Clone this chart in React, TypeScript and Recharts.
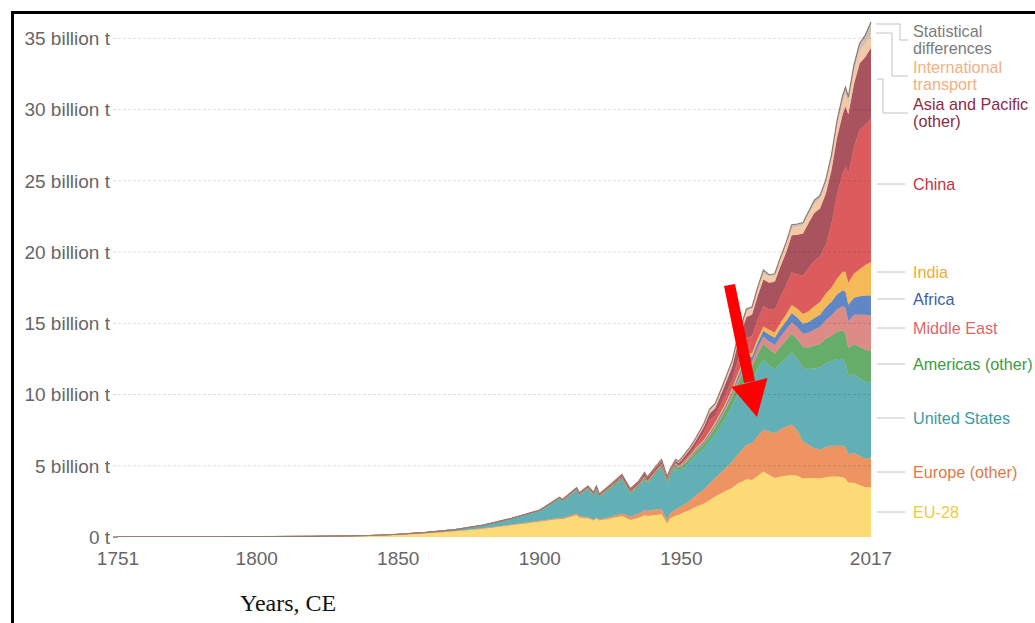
import { Area, AreaChart, ReferenceLine, XAxis, YAxis } from "recharts"

// CO2 emissions by world region, billion tonnes per year
const years = [
  1751, 1780, 1800, 1820, 1840, 1850, 1860, 1870, 1880, 1890,
  1900, 1903, 1907, 1908, 1913, 1914, 1917, 1919, 1920, 1921,
  1925, 1929, 1932, 1935, 1937, 1938, 1941, 1943, 1945, 1946,
  1948, 1949, 1950, 1953, 1955, 1958, 1960, 1962, 1965, 1968,
  1970, 1973, 1975, 1977, 1979, 1981, 1983, 1985, 1987, 1989,
  1991, 1993, 1995, 1997, 1999, 2001, 2003, 2005, 2007, 2008,
  2009, 2011, 2013, 2015, 2017,
]

const eu28 = [
  0.009, 0.015, 0.028, 0.045, 0.09, 0.16, 0.27, 0.4, 0.58, 0.82,
  1.07, 1.15, 1.27, 1.25, 1.52, 1.35, 1.32, 1.15, 1.3, 1.15,
  1.3, 1.47, 1.2, 1.35, 1.52, 1.48, 1.55, 1.6, 0.95, 1.3,
  1.5, 1.55, 1.65, 1.9, 2.1, 2.35, 2.6, 2.85, 3.15, 3.45,
  3.75, 4.05, 4.0, 4.3, 4.6, 4.35, 4.15, 4.25, 4.3, 4.35,
  4.3, 4.1, 4.15, 4.15, 4.1, 4.2, 4.25, 4.25, 4.2, 4.1,
  3.8, 3.8, 3.65, 3.5, 3.5,
]

const europeOther = [
  0, 0, 0.001, 0.002, 0.005, 0.01, 0.015, 0.02, 0.03, 0.05,
  0.07, 0.08, 0.09, 0.09, 0.12, 0.1, 0.08, 0.06, 0.07, 0.08,
  0.12, 0.18, 0.22, 0.3, 0.35, 0.36, 0.38, 0.35, 0.25, 0.35,
  0.45, 0.48, 0.5, 0.65, 0.8, 1.0, 1.15, 1.3, 1.55, 1.85,
  2.05, 2.4, 2.6, 2.8, 2.95, 3.05, 3.15, 3.3, 3.45, 3.55,
  3.2, 2.6, 2.3, 2.1, 2.05, 2.1, 2.15, 2.15, 2.2, 2.2,
  2.0, 2.1, 2.05, 2.0, 2.05,
]

const unitedStates = [
  0, 0, 0.0003, 0.001, 0.01, 0.02, 0.04, 0.09, 0.2, 0.4,
  0.68, 0.95, 1.3, 1.15, 1.6, 1.45, 1.95, 1.7, 1.95, 1.55,
  1.95, 2.35, 1.6, 1.85, 2.15, 1.85, 2.45, 2.9, 2.55, 2.6,
  2.9, 2.6, 2.55, 2.7, 2.8, 2.85, 2.95, 3.1, 3.45, 3.95,
  4.3, 4.75, 4.45, 4.75, 4.9, 4.65, 4.45, 4.65, 4.8, 5.05,
  5.0, 5.2, 5.35, 5.6, 5.75, 5.9, 5.95, 6.1, 6.1, 5.9,
  5.5, 5.55, 5.45, 5.4, 5.3,
]

const americasOther = [
  0, 0, 0, 0, 0.001, 0.002, 0.004, 0.008, 0.012, 0.02,
  0.03, 0.04, 0.05, 0.05, 0.08, 0.07, 0.07, 0.07, 0.08, 0.08,
  0.1, 0.12, 0.1, 0.11, 0.13, 0.13, 0.14, 0.14, 0.15, 0.16,
  0.18, 0.19, 0.2, 0.24, 0.27, 0.32, 0.38, 0.42, 0.5, 0.6,
  0.7, 0.85, 0.92, 1.0, 1.1, 1.15, 1.12, 1.18, 1.25, 1.33,
  1.37, 1.42, 1.5, 1.6, 1.65, 1.72, 1.78, 1.9, 2.0, 2.05,
  1.95, 2.1, 2.2, 2.25, 2.2,
]

const middleEast = [
  0, 0, 0, 0, 0, 0, 0, 0, 0, 0,
  0, 0, 0.001, 0.001, 0.002, 0.002, 0.002, 0.003, 0.003, 0.003,
  0.005, 0.008, 0.01, 0.012, 0.015, 0.015, 0.015, 0.018, 0.02, 0.022,
  0.028, 0.032, 0.04, 0.05, 0.06, 0.08, 0.1, 0.12, 0.16, 0.2,
  0.24, 0.32, 0.36, 0.43, 0.5, 0.53, 0.6, 0.68, 0.75, 0.8,
  0.85, 0.95, 1.05, 1.12, 1.2, 1.3, 1.42, 1.58, 1.72, 1.82,
  1.9, 2.05, 2.25, 2.45, 2.5,
]

const africa = [
  0, 0, 0, 0, 0, 0, 0, 0, 0.001, 0.003,
  0.008, 0.01, 0.012, 0.012, 0.018, 0.017, 0.018, 0.02, 0.022, 0.02,
  0.028, 0.035, 0.03, 0.035, 0.04, 0.042, 0.045, 0.048, 0.05, 0.055,
  0.065, 0.07, 0.08, 0.09, 0.1, 0.12, 0.14, 0.15, 0.18, 0.2,
  0.25, 0.3, 0.33, 0.38, 0.42, 0.48, 0.52, 0.56, 0.6, 0.65,
  0.68, 0.7, 0.75, 0.8, 0.85, 0.9, 0.95, 1.05, 1.1, 1.15,
  1.15, 1.2, 1.3, 1.35, 1.4,
]

const india = [
  0, 0, 0, 0, 0, 0, 0, 0.001, 0.002, 0.005,
  0.01, 0.012, 0.015, 0.016, 0.022, 0.024, 0.026, 0.028, 0.03, 0.03,
  0.033, 0.038, 0.035, 0.04, 0.045, 0.046, 0.05, 0.052, 0.055, 0.052,
  0.058, 0.062, 0.067, 0.075, 0.085, 0.1, 0.12, 0.14, 0.17, 0.19,
  0.2, 0.22, 0.25, 0.28, 0.3, 0.33, 0.37, 0.42, 0.47, 0.55,
  0.62, 0.68, 0.75, 0.82, 0.9, 0.95, 1.0, 1.1, 1.3, 1.4,
  1.55, 1.7, 1.9, 2.15, 2.35,
]

const china = [
  0, 0, 0, 0, 0, 0, 0, 0, 0, 0,
  0.001, 0.002, 0.003, 0.004, 0.01, 0.01, 0.012, 0.013, 0.014, 0.014,
  0.018, 0.025, 0.03, 0.035, 0.04, 0.04, 0.05, 0.05, 0.03, 0.03,
  0.035, 0.05, 0.08, 0.14, 0.2, 0.55, 0.78, 0.45, 0.63, 0.6,
  0.95, 1.1, 1.2, 1.35, 1.45, 1.45, 1.6, 1.85, 2.05, 2.3,
  2.4, 2.7, 3.05, 3.2, 3.2, 3.45, 4.45, 5.9, 6.9, 7.4,
  7.7, 8.9, 9.8, 9.8, 10.1,
]

const asiaPacificOther = [
  0, 0, 0, 0, 0, 0, 0, 0.002, 0.005, 0.012,
  0.025, 0.03, 0.04, 0.042, 0.06, 0.06, 0.07, 0.07, 0.075, 0.07,
  0.09, 0.12, 0.12, 0.15, 0.18, 0.19, 0.2, 0.2, 0.09, 0.08,
  0.13, 0.16, 0.22, 0.28, 0.3, 0.37, 0.45, 0.52, 0.68, 0.92,
  1.2, 1.45, 1.5, 1.65, 1.85, 1.85, 1.95, 2.1, 2.3, 2.6,
  2.8, 2.95, 3.15, 3.35, 3.35, 3.55, 3.75, 4.0, 4.15, 4.2,
  4.1, 4.4, 4.65, 4.8, 4.95,
]

const internationalTransport = [
  0, 0, 0, 0, 0, 0, 0, 0, 0, 0,
  0, 0.005, 0.008, 0.008, 0.015, 0.015, 0.015, 0.018, 0.02, 0.02,
  0.025, 0.03, 0.03, 0.035, 0.04, 0.04, 0.05, 0.06, 0.06, 0.07,
  0.08, 0.09, 0.1, 0.12, 0.14, 0.17, 0.2, 0.22, 0.25, 0.3,
  0.33, 0.38, 0.38, 0.42, 0.45, 0.42, 0.42, 0.45, 0.48, 0.52,
  0.55, 0.57, 0.6, 0.65, 0.68, 0.68, 0.72, 0.8, 0.88, 0.9,
  0.85, 0.9, 0.9, 0.93, 0.95,
]

const statisticalDifferences = [
  0, 0, 0, 0, 0, 0, 0, 0, 0, 0,
  0, 0.005, 0.01, 0.01, 0.015, 0.01, 0.01, 0.01, 0.015, 0.01,
  0.015, 0.02, 0.015, 0.02, 0.02, 0.02, 0.025, 0.03, 0.03, 0.03,
  0.03, 0.03, 0.04, 0.05, 0.06, 0.08, 0.1, 0.1, 0.12, 0.14,
  0.15, 0.18, 0.17, 0.2, 0.22, 0.15, 0.15, 0.18, 0.2, 0.22,
  0.2, 0.2, 0.22, 0.25, 0.25, 0.3, 0.35, 0.4, 0.45, 0.45,
  0.4, 0.45, 0.5, 0.6, 0.85,
]

const yTicks = [0, 5, 10, 15, 20, 25, 30, 35]
const xTicks = [1751, 1800, 1850, 1900, 1950, 2017]

// bottom of the stack first
const series = [
  { key: "eu28", values: eu28, fill: "#fcda75" },
  { key: "europeOther", values: europeOther, fill: "#ee9462" },
  { key: "unitedStates", values: unitedStates, fill: "#62afb5" },
  { key: "americasOther", values: americasOther, fill: "#65ad69" },
  { key: "middleEast", values: middleEast, fill: "#dd8b87" },
  { key: "africa", values: africa, fill: "#5f87c5" },
  { key: "india", values: india, fill: "#f6b957" },
  { key: "china", values: china, fill: "#dc5c5e" },
  { key: "asiaPacificOther", values: asiaPacificOther, fill: "#a9535f" },
  { key: "internationalTransport", values: internationalTransport, fill: "#f5c9a5" },
  { key: "statisticalDifferences", values: statisticalDifferences, fill: "#cdc2b8" },
]

const data = years.map((year, i) => {
  const row: any = { year }
  series.forEach((s) => {
    row[s.key] = s.values[i]
  })
  return row
})

// labels on the right, with their leader lines
const labels = [
  { lines: ["Statistical", "differences"], color: "#7b7b7b", y: 31, path: "M876 24 H900 V40 H908" },
  { lines: ["International", "transport"], color: "#f3b07f", y: 67, path: "M876 33 H892 V76 H908" },
  { lines: ["Asia and Pacific", "(other)"], color: "#8c2a44", y: 104, path: "M877 79 H883 V113 H908" },
  { lines: ["China"], color: "#c6333f", y: 184, path: "M877 184 H905" },
  { lines: ["India"], color: "#efab2c", y: 272, path: "M877 272 H905" },
  { lines: ["Africa"], color: "#3c5ea9", y: 299, path: "M877 299 H905" },
  { lines: ["Middle East"], color: "#d8686a", y: 328, path: "M877 328 H905" },
  { lines: ["Americas (other)"], color: "#3e9a3e", y: 364, path: "M877 364 H905" },
  { lines: ["United States"], color: "#3b9aa2", y: 418, path: "M877 418 H905" },
  { lines: ["Europe (other)"], color: "#db7a48", y: 472, path: "M877 472 H905" },
  { lines: ["EU-28"], color: "#f2cb3a", y: 512, path: "M877 512 H905" },
]

function YTick(props: any) {
  const { x, y, payload } = props
  const zero = payload.value === 0
  const text = zero ? "0 t" : `${payload.value} billion t`
  return (
    <g>
      <line
        x1={x + 3}
        x2={x + 8}
        y1={y}
        y2={y}
        stroke={zero ? "#8d776e" : "#d6d6d6"}
        strokeWidth={zero ? 1.5 : 1}
        strokeDasharray={zero ? undefined : "3 2"}
      />
      <text x={x} y={y} dy="0.355em" textAnchor="end" fill="#666" fontSize={19}>
        {text}
      </text>
    </g>
  )
}

export default function App() {
  return (
    <div
      style={{
        position: "fixed",
        left: 0,
        top: 0,
        width: 1035,
        height: 623,
        overflow: "hidden",
        background: "#fff",
        fontFamily: "'Liberation Sans', Arial, Helvetica, sans-serif",
      }}
    >
      <div
        style={{
          position: "absolute",
          left: 11,
          top: 11,
          width: 1100,
          height: 700,
          borderLeft: "3px solid #000",
          borderTop: "3px solid #000",
        }}
      />
      <div style={{ position: "absolute", left: 0, top: 0 }}>
        <AreaChart width={1035} height={623} data={data} margin={{ top: 17, right: 164, left: 0, bottom: 56 }}>
          <XAxis
            dataKey="year"
            type="number"
            domain={[1751, 2017]}
            ticks={xTicks}
            axisLine={false}
            tickLine={false}
            tickMargin={9}
            height={30}
            tick={{ fill: "#666", fontSize: 19 }}
          />
          <YAxis
            type="number"
            domain={[0, 36.5]}
            ticks={yTicks}
            width={118}
            axisLine={false}
            tickLine={false}
            tick={<YTick />}
            allowDataOverflow
          />
          {series.map((s, i) => (
            <Area
              key={s.key}
              type="linear"
              dataKey={s.key}
              stackId="1"
              fill={s.fill}
              fillOpacity={1}
              stroke={i === series.length - 1 ? "#8f7a73" : s.fill}
              strokeWidth={i === series.length - 1 ? 1.2 : 0.5}
              dot={false}
              activeDot={false}
              isAnimationActive={false}
            />
          ))}
          {yTicks
            .filter((v) => v > 0)
            .map((v) => (
              <ReferenceLine key={v} y={v} stroke="#000" strokeOpacity={0.13} strokeDasharray="3 2" />
            ))}
        </AreaChart>
      </div>
      <svg
        width={1035}
        height={623}
        style={{ position: "absolute", left: 0, top: 0, pointerEvents: "none" }}
      >
        {labels.map((l) => (
          <g key={l.lines[0]}>
            <path d={l.path} fill="none" stroke="#c2c2c2" strokeWidth={1} />
            {l.lines.map((line, j) => (
              <text key={j} x={913} y={l.y + j * 17.5} dy="0.355em" fill={l.color} fontSize={16.2}>
                {line}
              </text>
            ))}
          </g>
        ))}
        <polygon points="724,286 735,284 755,381 744,383" fill="#ff0000" />
        <polygon points="731.5,387 767.5,378 757,417" fill="#ff0000" />
        <text
          x={240}
          y={611}
          fill="#111"
          fontSize={24}
          fontFamily="'Liberation Serif', 'Times New Roman', serif"
        >
          Years, CE
        </text>
      </svg>
    </div>
  )
}
